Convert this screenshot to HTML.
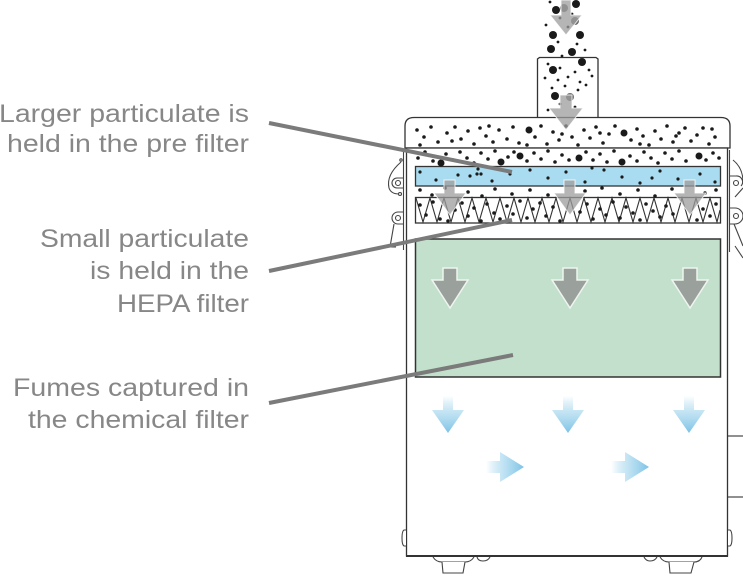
<!DOCTYPE html>
<html><head><meta charset="utf-8"><style>
html,body{margin:0;padding:0;background:#fff;}
svg{display:block;}
text{font-family:"Liberation Sans",Arial,sans-serif;font-size:25px;fill:#878787;}
</style></head><body>
<svg width="743" height="577" viewBox="0 0 743 577" xmlns="http://www.w3.org/2000/svg">
<defs>
<linearGradient id="gd" x1="0" y1="0" x2="0" y2="1">
<stop offset="0" stop-color="#8ccbe8" stop-opacity="0"/>
<stop offset="0.45" stop-color="#a6d7ee" stop-opacity="0.7"/>
<stop offset="1" stop-color="#7cc2e6"/>
</linearGradient>
<linearGradient id="gr" x1="0" y1="0" x2="1" y2="0">
<stop offset="0" stop-color="#8ccbe8" stop-opacity="0"/>
<stop offset="0.45" stop-color="#a6d7ee" stop-opacity="0.7"/>
<stop offset="1" stop-color="#7cc2e6"/>
</linearGradient>
</defs>

<!-- labels -->
<text x="249" y="122" text-anchor="end" textLength="250" lengthAdjust="spacingAndGlyphs">Larger particulate is</text>
<text x="249" y="152" text-anchor="end" textLength="242" lengthAdjust="spacingAndGlyphs">held in the pre filter</text>
<text x="249" y="247" text-anchor="end" textLength="209" lengthAdjust="spacingAndGlyphs">Small particulate</text>
<text x="249" y="279" text-anchor="end" textLength="159" lengthAdjust="spacingAndGlyphs">is held in the</text>
<text x="249" y="312" text-anchor="end" textLength="132" lengthAdjust="spacingAndGlyphs">HEPA filter</text>
<text x="249" y="396" text-anchor="end" textLength="236" lengthAdjust="spacingAndGlyphs">Fumes captured in</text>
<text x="249" y="428" text-anchor="end" textLength="221" lengthAdjust="spacingAndGlyphs">the chemical filter</text>

<!-- side right panel lines -->
<g stroke="#555" stroke-width="1.3" fill="none">
<line x1="728" y1="436" x2="743" y2="436"/>
<line x1="728" y1="497" x2="743" y2="497"/>
</g>

<!-- chimney -->
<path d="M537.5,117 L537.5,59 L539.5,57.5 L596,57.5 L598,59 L598,117" fill="#fff" stroke="#333" stroke-width="1.3"/>

<!-- top box -->
<path d="M405,148 L405,126 Q405,117.5 414,117.5 L721,117.5 Q730,117.5 730,126 L730,148 Z" fill="#fff" stroke="#333" stroke-width="1.3"/>
<!-- body -->
<rect x="406.5" y="148" width="321" height="408" fill="#fff" stroke="#333" stroke-width="1.3"/>
<line x1="406" y1="556" x2="728" y2="556" stroke="#333" stroke-width="2"/>

<!-- pre filter -->
<rect x="415.5" y="166.5" width="305" height="19.5" fill="#a9dcf1" stroke="#333" stroke-width="1.3"/>
<!-- HEPA -->
<rect x="415.5" y="197.5" width="305" height="25.5" fill="#fff" stroke="#333" stroke-width="1.3"/>
<polyline fill="none" stroke="#333" stroke-width="1.1" points="416,198 423,222 430,198 437,222 444,198 451,222 458,198 465,222 472,198 479,222 486,198 493,222 500,198 507,222 514,198 521,222 528,198 535,222 542,198 549,222 556,198 563,222 570,198 577,222 584,198 591,222 598,198 605,222 612,198 619,222 626,198 633,222 640,198 647,222 654,198 661,222 668,198 675,222 682,198 689,222 696,198 703,222 710,198 717,222 720,210"/>
<!-- chemical filter -->
<rect x="415.5" y="239" width="305" height="138" fill="#c3e0cc" stroke="#333" stroke-width="1.5"/>

<!-- side brackets left -->
<g fill="none" stroke="#444" stroke-width="1.1">
<line x1="403.5" y1="150" x2="403.5" y2="250"/>
<path d="M401,162 Q386,175 389,188 Q391,194 399,194"/>
<circle cx="400" cy="194" r="1.5"/>
<path d="M403,178 L397,178 A5,5 0 0 0 397,188 L403,188"/>
<circle cx="398" cy="183" r="2.5"/>
<path d="M403,212 L398,212 A6,6 0 0 0 398,224 L403,224"/>
<circle cx="398" cy="218" r="2.5"/>
<path d="M394,224 L390,247 L396,247"/>
<circle cx="401" cy="160" r="1.2"/>
</g>
<!-- right bracket -->
<g fill="none" stroke="#444" stroke-width="1.1">
<line x1="729.5" y1="150" x2="729.5" y2="252"/>
<path d="M733,160 Q743,168 743,182"/>
<path d="M730,176 L736,176 A6,6 0 0 1 741,186"/>
<circle cx="736" cy="183" r="2.5"/>
<path d="M743,188 L735,197"/>
<path d="M730,208 L735,208 A6,6 0 0 1 735,224 L730,224"/>
<circle cx="736" cy="216" r="2.5"/>
<path d="M734,224 L743,246"/>
<line x1="735" y1="246" x2="743" y2="258"/>
</g>

<!-- bumpers -->
<g fill="#fff" stroke="#444" stroke-width="1.1">
<path d="M406,530 L404,530 Q402,531 402,538 Q402,545 404,546 L406,546"/>
<path d="M728,530 L730,530 Q732,531 732,538 Q732,545 730,546 L728,546"/>
</g>
<!-- feet -->
<g fill="#fff" stroke="#444" stroke-width="1.1">
<path d="M433,557 Q436,562 442,562 L465,562 Q471,562 474,557"/>
<path d="M442,562 L443,573 L463,573 L465,562"/>
<path d="M477,557 Q478,561 483,561 Q488,561 490,557"/>
<path d="M660,557 Q663,562 669,562 L694,562 Q700,562 702,557"/>
<path d="M669,562 L670,573 L691,573 L694,562"/>
<path d="M644,557 Q646,561 650,561 Q655,561 657,557"/>
</g>

<!-- gray arrows in green filter -->
<g fill="#9aa09c" stroke="#eef5ef" stroke-width="1.5">
<path d="M443,268 L457,268 L457,280 L468,280 L450,308 L432,280 L443,280 Z"/>
<path d="M563,268 L577,268 L577,280 L588,280 L570,308 L552,280 L563,280 Z"/>
<path d="M683,268 L697,268 L697,280 L708,280 L690,308 L672,280 L683,280 Z"/>
</g>

<!-- blue arrows -->
<g fill="url(#gd)">
<path d="M443,396 L453,396 L453,410 L464,410 L448,433 L432,410 L443,410 Z"/>
<path d="M563,396 L573,396 L573,410 L584,410 L568,433 L552,410 L563,410 Z"/>
<path d="M684,396 L694,396 L694,410 L705,410 L689,433 L673,410 L684,410 Z"/>
</g>
<g fill="url(#gr)">
<path d="M486,461 L500,461 L500,452 L524,467 L500,482 L500,473 L486,473 Z"/>
<path d="M611,461 L625,461 L625,452 L649,467 L625,482 L625,473 L611,473 Z"/>
</g>

<!-- particles -->
<g fill="#1a1a1a">
<circle cx="556" cy="10" r="4"/><circle cx="576" cy="4" r="4"/><circle cx="553" cy="35" r="4"/><circle cx="580" cy="35" r="4"/>
<circle cx="551" cy="49" r="4"/><circle cx="572" cy="52" r="4"/><circle cx="582" cy="62" r="4"/><circle cx="553" cy="70" r="4"/>
<circle cx="555" cy="96" r="4"/>
<circle cx="529" cy="130" r="3.5"/><circle cx="624" cy="133" r="3.5"/>
<circle cx="520" cy="156" r="3.5"/><circle cx="579" cy="158" r="3.5"/><circle cx="622" cy="162" r="3.5"/><circle cx="699" cy="156" r="3.5"/><circle cx="441" cy="163" r="3.5"/><circle cx="501" cy="162" r="3.5"/>
</g>
<g fill="#707070">
<circle cx="564" cy="8" r="4"/><circle cx="575" cy="21" r="4"/><circle cx="570" cy="97" r="4"/>
</g>
<g fill="#1a1a1a">
<circle cx="550" cy="2" r="1.4"/><circle cx="560" cy="18" r="1.4"/><circle cx="572" cy="14" r="1.4"/><circle cx="568" cy="27" r="1.4"/><circle cx="558" cy="42" r="1.4"/><circle cx="577" cy="44" r="1.4"/><circle cx="562" cy="56" r="1.4"/><circle cx="585" cy="50" r="1.4"/><circle cx="546" cy="25" r="1.4"/>
<circle cx="548" cy="64" r="1.4"/><circle cx="560" cy="68" r="1.4"/><circle cx="575" cy="72" r="1.4"/><circle cx="589" cy="70" r="1.4"/><circle cx="545" cy="78" r="1.4"/><circle cx="558" cy="80" r="1.4"/><circle cx="568" cy="77" r="1.4"/><circle cx="580" cy="82" r="1.4"/><circle cx="592" cy="76" r="1.4"/><circle cx="552" cy="88" r="1.4"/><circle cx="565" cy="86" r="1.4"/><circle cx="578" cy="90" r="1.4"/><circle cx="586" cy="85" r="1.4"/><circle cx="560" cy="104" r="1.4"/><circle cx="575" cy="107" r="1.4"/><circle cx="548" cy="110" r="1.4"/>
<circle cx="417" cy="130" r="1.8"/><circle cx="424" cy="137" r="1.8"/><circle cx="431" cy="127" r="1.8"/><circle cx="438" cy="142" r="1.8"/><circle cx="447" cy="133" r="1.8"/><circle cx="455" cy="127" r="1.8"/><circle cx="461" cy="139" r="1.8"/><circle cx="468" cy="131" r="1.8"/><circle cx="474" cy="144" r="1.8"/><circle cx="480" cy="128" r="1.8"/><circle cx="486" cy="136" r="1.8"/><circle cx="493" cy="142" r="1.8"/><circle cx="499" cy="130" r="1.8"/><circle cx="507" cy="139" r="1.8"/><circle cx="513" cy="127" r="1.8"/><circle cx="519" cy="143" r="1.8"/><circle cx="535" cy="137" r="1.8"/><circle cx="541" cy="126" r="1.8"/><circle cx="547" cy="144" r="1.8"/><circle cx="553" cy="132" r="1.8"/><circle cx="559" cy="140" r="1.8"/><circle cx="566" cy="126" r="1.8"/><circle cx="572" cy="137" r="1.8"/><circle cx="578" cy="145" r="1.8"/><circle cx="584" cy="130" r="1.8"/><circle cx="590" cy="138" r="1.8"/><circle cx="596" cy="127" r="1.8"/><circle cx="603" cy="143" r="1.8"/><circle cx="609" cy="134" r="1.8"/><circle cx="615" cy="126" r="1.8"/><circle cx="631" cy="140" r="1.8"/><circle cx="637" cy="129" r="1.8"/><circle cx="643" cy="136" r="1.8"/><circle cx="649" cy="145" r="1.8"/><circle cx="655" cy="131" r="1.8"/><circle cx="661" cy="139" r="1.8"/><circle cx="667" cy="126" r="1.8"/><circle cx="673" cy="142" r="1.8"/><circle cx="679" cy="133" r="1.8"/><circle cx="685" cy="128" r="1.8"/><circle cx="691" cy="141" r="1.8"/><circle cx="697" cy="135" r="1.8"/><circle cx="703" cy="128" r="1.8"/><circle cx="709" cy="144" r="1.8"/><circle cx="715" cy="137" r="1.8"/><circle cx="420" cy="145" r="1.8"/><circle cx="452" cy="141" r="1.8"/><circle cx="489" cy="126" r="1.8"/><circle cx="527" cy="145" r="1.8"/><circle cx="562" cy="134" r="1.8"/><circle cx="600" cy="133" r="1.8"/><circle cx="640" cy="144" r="1.8"/><circle cx="676" cy="136" r="1.8"/><circle cx="712" cy="129" r="1.8"/>
<circle cx="418" cy="158" r="1.8"/><circle cx="425" cy="152" r="1.8"/><circle cx="433" cy="161" r="1.8"/><circle cx="446" cy="154" r="1.8"/><circle cx="453" cy="160" r="1.8"/><circle cx="460" cy="152" r="1.8"/><circle cx="467" cy="158" r="1.8"/><circle cx="474" cy="163" r="1.8"/><circle cx="481" cy="153" r="1.8"/><circle cx="488" cy="159" r="1.8"/><circle cx="495" cy="151" r="1.8"/><circle cx="508" cy="157" r="1.8"/><circle cx="514" cy="152" r="1.8"/><circle cx="527" cy="161" r="1.8"/><circle cx="534" cy="153" r="1.8"/><circle cx="541" cy="159" r="1.8"/><circle cx="548" cy="151" r="1.8"/><circle cx="555" cy="162" r="1.8"/><circle cx="562" cy="155" r="1.8"/><circle cx="569" cy="160" r="1.8"/><circle cx="586" cy="152" r="1.8"/><circle cx="593" cy="160" r="1.8"/><circle cx="600" cy="154" r="1.8"/><circle cx="607" cy="162" r="1.8"/><circle cx="614" cy="151" r="1.8"/><circle cx="630" cy="156" r="1.8"/><circle cx="637" cy="161" r="1.8"/><circle cx="644" cy="152" r="1.8"/><circle cx="651" cy="158" r="1.8"/><circle cx="658" cy="163" r="1.8"/><circle cx="665" cy="153" r="1.8"/><circle cx="672" cy="159" r="1.8"/><circle cx="679" cy="151" r="1.8"/><circle cx="686" cy="161" r="1.8"/><circle cx="706" cy="160" r="1.8"/><circle cx="713" cy="153" r="1.8"/><circle cx="719" cy="158" r="1.8"/>
<circle cx="420" cy="172" r="1.6"/><circle cx="436" cy="180" r="1.6"/><circle cx="458" cy="175" r="1.6"/><circle cx="478" cy="169" r="1.6"/><circle cx="492" cy="181" r="1.6"/><circle cx="510" cy="174" r="1.6"/><circle cx="530" cy="170" r="1.6"/><circle cx="548" cy="178" r="1.6"/><circle cx="566" cy="172" r="1.6"/><circle cx="585" cy="182" r="1.6"/><circle cx="604" cy="170" r="1.6"/><circle cx="622" cy="177" r="1.6"/><circle cx="640" cy="183" r="1.6"/><circle cx="660" cy="171" r="1.6"/><circle cx="678" cy="179" r="1.6"/><circle cx="700" cy="174" r="1.6"/><circle cx="715" cy="182" r="1.6"/><circle cx="470" cy="176" r="1.6"/><circle cx="592" cy="168" r="1.6"/><circle cx="652" cy="178" r="1.6"/><circle cx="477" cy="174" r="1.6"/><circle cx="481" cy="174" r="1.6"/>
<circle cx="420" cy="190" r="1.8"/><circle cx="432" cy="195" r="1.8"/><circle cx="445" cy="188" r="1.8"/><circle cx="468" cy="192" r="1.8"/><circle cx="482" cy="196" r="1.8"/><circle cx="495" cy="189" r="1.8"/><circle cx="512" cy="194" r="1.8"/><circle cx="530" cy="190" r="1.8"/><circle cx="548" cy="195" r="1.8"/><circle cx="585" cy="191" r="1.8"/><circle cx="602" cy="188" r="1.8"/><circle cx="620" cy="194" r="1.8"/><circle cx="638" cy="190" r="1.8"/><circle cx="655" cy="196" r="1.8"/><circle cx="672" cy="189" r="1.8"/><circle cx="705" cy="193" r="1.8"/><circle cx="716" cy="190" r="1.8"/>
<circle cx="420" cy="205" r="1.8"/><circle cx="426" cy="215" r="1.8"/><circle cx="433" cy="202" r="1.8"/><circle cx="440" cy="219" r="1.8"/><circle cx="455" cy="210" r="1.8"/><circle cx="462" cy="203" r="1.8"/><circle cx="468" cy="216" r="1.8"/><circle cx="474" cy="208" r="1.8"/><circle cx="481" cy="221" r="1.8"/><circle cx="487" cy="204" r="1.8"/><circle cx="494" cy="213" r="1.8"/><circle cx="500" cy="219" r="1.8"/><circle cx="507" cy="206" r="1.8"/><circle cx="513" cy="214" r="1.8"/><circle cx="520" cy="201" r="1.8"/><circle cx="527" cy="218" r="1.8"/><circle cx="533" cy="209" r="1.8"/><circle cx="540" cy="203" r="1.8"/><circle cx="546" cy="216" r="1.8"/><circle cx="553" cy="207" r="1.8"/><circle cx="580" cy="212" r="1.8"/><circle cx="587" cy="204" r="1.8"/><circle cx="593" cy="219" r="1.8"/><circle cx="600" cy="209" r="1.8"/><circle cx="606" cy="215" r="1.8"/><circle cx="613" cy="202" r="1.8"/><circle cx="620" cy="218" r="1.8"/><circle cx="626" cy="207" r="1.8"/><circle cx="633" cy="213" r="1.8"/><circle cx="640" cy="220" r="1.8"/><circle cx="646" cy="204" r="1.8"/><circle cx="653" cy="211" r="1.8"/><circle cx="660" cy="217" r="1.8"/><circle cx="666" cy="206" r="1.8"/><circle cx="673" cy="214" r="1.8"/><circle cx="703" cy="209" r="1.8"/><circle cx="710" cy="216" r="1.8"/><circle cx="716" cy="204" r="1.8"/><circle cx="448" cy="221" r="1.8"/><circle cx="560" cy="221" r="1.8"/><circle cx="697" cy="220" r="1.8"/>
</g>

<!-- translucent flow arrows -->
<g fill="#9c9c9c" fill-opacity="0.75" stroke="#ffffff" stroke-opacity="0.8" stroke-width="1">
<path d="M561,0 L571,0 L571,15 L582,15 L566,35 L550,15 L561,15 Z"/>
<path d="M560,95 L572,95 L572,108 L583,108 L566,130 L549,108 L560,108 Z"/>
<path d="M444,180 L455,180 L455,193 L466,193 L450,215 L434,193 L444,193 Z"/>
<path d="M564,180 L575,180 L575,193 L586,193 L570,215 L554,193 L564,193 Z"/>
<path d="M684,180 L695,180 L695,193 L706,193 L690,215 L674,193 L684,193 Z"/>
</g>

<!-- leader lines -->
<g stroke="#7b7b7b" stroke-width="4" stroke-linecap="butt">
<line x1="269" y1="123" x2="512" y2="172"/>
<line x1="269" y1="271" x2="512" y2="220"/>
<line x1="269" y1="403" x2="513" y2="355"/>
</g>
</svg>
</body></html>
